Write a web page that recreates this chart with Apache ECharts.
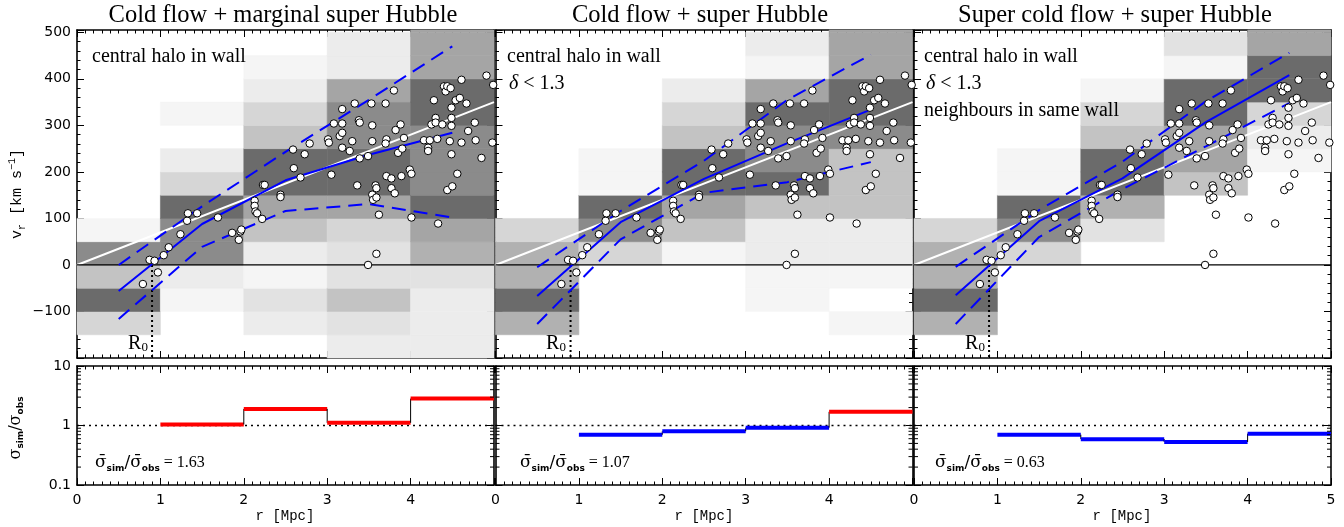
<!DOCTYPE html>
<html><head><meta charset="utf-8">
<script src="https://cdn.jsdelivr.net/npm/echarts@6/dist/echarts.min.js"></script>
<style>html,body{margin:0;padding:0;background:#fff}#c{width:1344px;height:527px}</style>
</head><body><div id="c"></div><script>
// ---------------- data ----------------
const panelTitles = ['Cold flow + marginal super Hubble', 'Cold flow + super Hubble', 'Super cold flow + super Hubble'];
const rowBottoms = [-200,-150,-100,-50,0,50,100,150,200,250,300,350,400,450,500];
const binStarts = [0,1,2,3,4];
// density level (0 = empty ... 9 = densest) per radial bin, from the -200 row upwards
const densityA = [
  [0,4,9,5,8,1,0,0,0,0,0,0,0,0,0],
  [0,0,1,2,8,8,9,4,2,0,1,0,0,0,0],
  [0,2,3,1,2,5,7,9,9,5,4,2,1,0,0],
  [2,3,5,3,3,4,7,9,9,8,8,7,2,2,0],
  [2,2,2,3,6,7,9,8,8,8,9,9,7,7,7]
];
const densityB = [
  [0,6,9,6,6,4,0,0,0,0,0,0,0,0,0],
  [0,0,0,0,4,8,9,1,1,0,0,0,0,0,0],
  [0,0,0,0,1,5,7,9,9,5,4,2,0,0,0],
  [0,0,1,1,2,2,5,9,8,8,9,7,1,2,0],
  [0,1,0,1,2,2,5,5,5,8,9,9,7,7,7]
];
const densityC = [
  [0,6,9,6,6,4,0,0,0,0,0,0,0,0,0],
  [0,0,0,0,4,8,9,1,1,0,0,0,0,0,0],
  [0,0,0,0,0,3,6,9,9,5,4,1,0,0,0],
  [0,0,0,0,0,0,0,5,7,7,9,9,1,3,0],
  [0,0,0,0,0,0,0,0,1,2,4,9,9,7,7]
];
// observed galaxies (r [Mpc], v_r [km/s])
const obsR = [0.79,0.87,0.93,0.97,1.04,1.10,1.24,1.32,1.33,1.44,1.69,1.86,1.94,1.96,1.97,
  2.13,2.13,2.14,2.16,2.22,2.23,2.25,2.44,2.44,2.59,2.60,2.68,2.73,2.79,
  3.01,3.02,3.05,3.08,3.15,3.18,3.18,3.18,3.18,3.27,3.30,3.33,3.36,3.38,3.39,3.39,3.49,3.49,3.53,3.54,3.54,3.54,3.55,3.58,3.59,3.59,3.59,3.62,3.70,3.71,3.70,3.71,3.77,3.77,3.80,3.81,3.82,3.85,3.88,3.89,3.90,3.92,3.99,
  4.01,4.01,4.16,4.21,4.21,4.23,4.25,4.28,4.30,4.30,4.32,4.33,4.38,4.40,4.42,4.44,4.44,4.47,4.48,4.49,4.49,4.49,4.49,4.50,4.54,4.56,4.59,4.61,4.61,4.67,4.69,4.77,4.78,4.85,4.91,4.98,4.99];
const obsV = [-41,11,9,-16,21,38,66,95,111,111,102,69,54,72,76,
  138,127,115,111,99,172,172,151,146,248,208,188,238,261,
  270,263,194,304,277,335,304,284,252,245,266,347,171,311,306,229,234,0,347,266,300,151,140,171,165,145,24,108,347,270,261,191,186,165,375,154,290,241,302,191,250,273,205,
  196,102,268,252,245,268,302,354,316,306,271,89,302,384,373,384,161,266,380,338,316,299,238,169,354,196,359,398,263,347,288,306,268,230,407,263,387];
const hubbleR = [0, 5];
const hubbleV = [0, 350];
const binCenters = [0.5, 1.5, 2.5, 3.5, 4.5];
const meanA = [-56, 88, 182, 237, 284], upperA = [0, 126, 243, 355, 470], lowerA = [-116, 39, 116, 131, 102];
const meanB = [-67, 92, 185, 262, 334], upperB = [-5, 116, 224, 355, 452], lowerB = [-127, 55, 155, 178, 221];
const meanC = [-65, 94, 186, 307, 408], upperC = [-4, 118, 222, 352, 456], lowerC = [-127, 60, 163, 255, 348];
const R0 = 0.9;
const sigmaBins = [1, 2, 3, 4];
const ratioA = [1.04, 1.90, 1.11, 2.83];
const ratioB = [0.70, 0.80, 0.92, 1.70];
const ratioC = [0.70, 0.59, 0.53, 0.73];
const sigmaMean = ['1.63', '1.07', '0.63'];
const logMinorTicks = [0.2,0.3,0.4,0.5,0.6,0.7,0.8,0.9,2,3,4,5,6,7,8,9];

// ---------------- styling ----------------
const palette = ['#ffffff','#f5f5f5','#ececec','#e2e2e2','#d6d6d6','#c3c3c3','#b1b1b1','#a5a5a5','#8b8b8b','#6b6b6b'];
const lefts = [77, 495.5, 914], W = 417;
const TOP = {top: 30, height: 328}, BOT = {top: 366, height: 119};
const densities = [densityA, densityB, densityC];
const means = [meanA, meanB, meanC], uppers = [upperA, upperB, upperC], lowers = [lowerA, lowerB, lowerC];
const ratios = [ratioA, ratioB, ratioC];

const chart = echarts.init(document.getElementById('c'), null, {renderer: 'canvas', width: 1344, height: 527});

const grids = [], xAxes = [], yAxes = [], series = [];
for (let p = 0; p < 3; p++) grids.push({left: lefts[p], top: TOP.top, width: W, height: TOP.height});
for (let p = 0; p < 3; p++) grids.push({left: lefts[p], top: BOT.top, width: W, height: BOT.height});

const axLine = {show: true, onZero: false, lineStyle: {color: '#000', width: 1.6}};
const tick = {show: true, inside: true, length: 7, lineStyle: {color: '#000', width: 1}};
const lblFont = {color: '#000', fontFamily: 'DejaVu Sans', fontSize: 14};

for (let g = 0; g < 6; g++) {
  const p = g % 3, isBottom = g >= 3;
  const xb = {type: 'value', gridIndex: g, min: 0, max: 5, interval: 1, axisLine: axLine, splitLine: {show: false},
    axisTick: tick, minorTick: {show: true, splitNumber: 10, length: 3.5, lineStyle: {color: '#000', width: 1}}};
  xAxes.push(Object.assign({}, xb, {position: 'bottom',
    axisLabel: isBottom ? Object.assign({show: true, margin: 8, showMaxLabel: p === 2, showMinLabel: true}, lblFont) : {show: false}}));
  xAxes.push(Object.assign({}, xb, {position: 'top', axisLabel: {show: false}}));
  if (!isBottom) {
    const yb = {type: 'value', gridIndex: g, min: -200, max: 505, interval: 100, axisLine: axLine, splitLine: {show: false},
      axisTick: tick, minorTick: {show: true, splitNumber: 5, length: 3.5, lineStyle: {color: '#000', width: 1}}};
    yAxes.push(Object.assign({}, yb, {position: 'left',
      axisLabel: p === 0 ? Object.assign({show: true, margin: 6, showMinLabel: false, showMaxLabel: false,
        formatter: v => v < 0 ? '\u2212' + Math.abs(v) : String(v)}, lblFont) : {show: false}}));
    yAxes.push(Object.assign({}, yb, {position: 'right', axisLabel: {show: false}}));
  } else {
    const yb = {type: 'log', logBase: 10, gridIndex: g, min: 0.1, max: 10, axisLine: axLine, splitLine: {show: false},
      axisTick: tick, minorTick: {show: false}};
    yAxes.push(Object.assign({}, yb, {position: 'left',
      axisLabel: p === 0 ? Object.assign({show: true, margin: 6, formatter: v => String(v)}, lblFont) : {show: false}}));
    yAxes.push(Object.assign({}, yb, {position: 'right', axisLabel: {show: false}}));
  }
}

function cellRender(params, api) {
  const x0 = api.value(0), y0 = api.value(1), lvl = api.value(2);
  if (!lvl) return null;
  const a = api.coord([x0, y0 + 50]), b = api.coord([x0 + 1, y0]);
  const cs = params.coordSys;
  const r = echarts.graphic.clipRectByRect({x: a[0], y: a[1], width: b[0] - a[0], height: b[1] - a[1]},
    {x: cs.x, y: cs.y, width: cs.width, height: cs.height});
  if (!r) return null;
  return {type: 'rect', shape: r, style: {fill: palette[lvl], stroke: palette[lvl], lineWidth: 0.6}};
}

function stepRender(rs) {
  return function (params, api) {
    const i = params.dataIndex;
    const x0 = api.value(0), v = api.value(1);
    const a = api.coord([x0, v]), b = api.coord([x0 + 1, v]);
    const ch = [];
    if (i > 0) {
      const prev = api.coord([x0, rs[i - 1]]);
      ch.push({type: 'line', shape: {x1: a[0], y1: prev[1], x2: a[0], y2: a[1]}, style: {stroke: '#000', lineWidth: 1}});
    }
    ch.push({type: 'line', shape: {x1: a[0], y1: a[1], x2: b[0], y2: b[1]}, style: {stroke: v >= 1 ? '#ff0000' : '#0000ff', lineWidth: 4}});
    return {type: 'group', children: ch};
  };
}

function minorLogRender(params, api) {
  const v = api.value(1);
  const L = api.coord([0, v]), R = api.coord([5, v]);
  return {type: 'group', children: [
    {type: 'line', shape: {x1: L[0], y1: L[1], x2: L[0] + 4, y2: L[1]}, style: {stroke: '#000', lineWidth: 1}},
    {type: 'line', shape: {x1: R[0], y1: R[1], x2: R[0] - 4, y2: R[1]}, style: {stroke: '#000', lineWidth: 1}}
  ]};
}

const zip = (xs, ys) => xs.map((x, i) => [x, ys[i]]);

for (let p = 0; p < 3; p++) {
  const ax = {xAxisIndex: 2 * p, yAxisIndex: 2 * p};
  const cells = [];
  densities[p].forEach((col, ci) => col.forEach((lvl, ri) => cells.push([binStarts[ci], rowBottoms[ri], lvl])));
  series.push(Object.assign({type: 'custom', renderItem: cellRender, data: cells, z: 1, silent: true}, ax));
  series.push(Object.assign({type: 'line', data: zip(hubbleR, hubbleV), symbol: 'none', z: 3,
    lineStyle: {color: '#ffffff', width: 2}}, ax));
  series.push(Object.assign({type: 'line', data: [[0, 0], [5, 0]], symbol: 'none', z: 3,
    lineStyle: {color: '#000', width: 1.2}}, ax));
  series.push(Object.assign({type: 'line', data: [[R0, 0], [R0, -200]], symbol: 'none', z: 3,
    lineStyle: {color: '#000', width: 2, type: [2, 3]}}, ax));
  series.push(Object.assign({type: 'line', data: zip(binCenters, means[p]), symbol: 'none', z: 4,
    lineStyle: {color: '#0000ff', width: 2}}, ax));
  series.push(Object.assign({type: 'line', data: zip(binCenters, uppers[p]), symbol: 'none', z: 4,
    lineStyle: {color: '#0000ff', width: 2, type: [14, 8]}}, ax));
  series.push(Object.assign({type: 'line', data: zip(binCenters, lowers[p]), symbol: 'none', z: 4,
    lineStyle: {color: '#0000ff', width: 2, type: [14, 8]}}, ax));
  series.push(Object.assign({type: 'scatter', data: zip(obsR, obsV), symbol: 'circle', symbolSize: 7.5, z: 5,
    itemStyle: {color: '#ffffff', borderColor: '#000', borderWidth: 1, opacity: 1}}, ax));

  const bx = {xAxisIndex: 2 * (p + 3), yAxisIndex: 2 * (p + 3)};
  series.push(Object.assign({type: 'line', data: [[0, 1], [5, 1]], symbol: 'none', z: 2,
    lineStyle: {color: '#000', width: 1.3, type: [2, 4]}}, bx));
  series.push(Object.assign({type: 'custom', renderItem: stepRender(ratios[p]), data: zip(sigmaBins, ratios[p]), z: 3}, bx));
  series.push(Object.assign({type: 'custom', renderItem: minorLogRender, data: logMinorTicks.map(v => [0, v]), z: 6}, bx));
}

// ---------------- texts ----------------
const serif = 'Liberation Serif';
const graphics = [];
const titleX = [283, 700, 1115];
panelTitles.forEach((t, p) => graphics.push({type: 'text', x: titleX[p], y: 16, z: 100,
  style: {text: t, fontSize: 24.5, fontFamily: serif, fill: '#000', align: 'center', verticalAlign: 'middle'}}));
const annX = [92, 507, 924];
const annLines = [['central halo in wall'], ['central halo in wall', '{d|δ} < 1.3'], ['central halo in wall', '{d|δ} < 1.3', 'neighbours in same wall']];
annLines.forEach((lines, p) => lines.forEach((t, k) => graphics.push({type: 'text', x: annX[p] + (k === 1 ? 2 : 0), y: 57 + 27 * k, z: 100,
  style: {text: t, fontSize: 20, fontFamily: serif, fill: '#000', align: 'left', verticalAlign: 'middle',
    rich: {d: {fontSize: 20, fontFamily: serif, fontStyle: 'italic'}}}})));
const r0X = [138, 556, 975];
r0X.forEach(x => graphics.push({type: 'text', x: x, y: 344, z: 100,
  style: {text: '{r|R}{s|0}', align: 'center', verticalAlign: 'middle',
    rich: {r: {fontSize: 20, fontFamily: serif, fill: '#000', lineHeight: 20}, s: {fontSize: 13, fontFamily: serif, fill: '#000', lineHeight: 12, verticalAlign: 'bottom'}}}}));
const sigX = [95, 520, 935];
sigX.forEach((x, p) => graphics.push({type: 'text', x: x, y: 463, z: 100,
  style: {text: '{s|σ\u0304}{b|sim}{s|/σ\u0304}{b|obs}{n| = ' + sigmaMean[p] + '}', align: 'left', verticalAlign: 'middle',
    rich: {s: {fontSize: 17, fontFamily: 'DejaVu Serif', fill: '#000', lineHeight: 20},
      b: {fontSize: 9, fontWeight: 'bold', fontFamily: 'DejaVu Sans', fill: '#000', lineHeight: 10, verticalAlign: 'bottom'},
      n: {fontSize: 16, fontFamily: serif, fill: '#000', lineHeight: 20}}}}));
const rX = [285, 704, 1122];
rX.forEach(x => graphics.push({type: 'text', x: x, y: 516, z: 100,
  style: {text: 'r [Mpc]', fontSize: 14, fontFamily: 'Liberation Mono', fill: '#000', align: 'center', verticalAlign: 'middle'}}));
graphics.push({type: 'text', x: 17, y: 194, rotation: Math.PI / 2, z: 100,
  style: {text: '{n|v}{sb|r}{n| [km s}{sp|\u22121}{n|]}', align: 'center', verticalAlign: 'middle',
    rich: {n: {fontSize: 15, fontFamily: 'Liberation Mono', fill: '#000', lineHeight: 20},
      sb: {fontSize: 10, fontFamily: 'Liberation Mono', fill: '#000', lineHeight: 10, verticalAlign: 'bottom'},
      sp: {fontSize: 10, fontFamily: 'Liberation Mono', fill: '#000', lineHeight: 10, verticalAlign: 'top'}}}});
graphics.push({type: 'text', x: 16, y: 428, rotation: Math.PI / 2, z: 100,
  style: {text: '{s|σ}{b|sim}{s|/σ}{b|obs}', align: 'center', verticalAlign: 'middle',
    rich: {s: {fontSize: 16, fontFamily: 'DejaVu Serif', fill: '#000', lineHeight: 18},
      b: {fontSize: 9, fontWeight: 'bold', fontFamily: 'DejaVu Sans', fill: '#000', lineHeight: 9, verticalAlign: 'bottom'}}}});

chart.setOption({animation: false, backgroundColor: '#ffffff', grid: grids, xAxis: xAxes, yAxis: yAxes, series: series, graphic: graphics});
</script></body></html>
